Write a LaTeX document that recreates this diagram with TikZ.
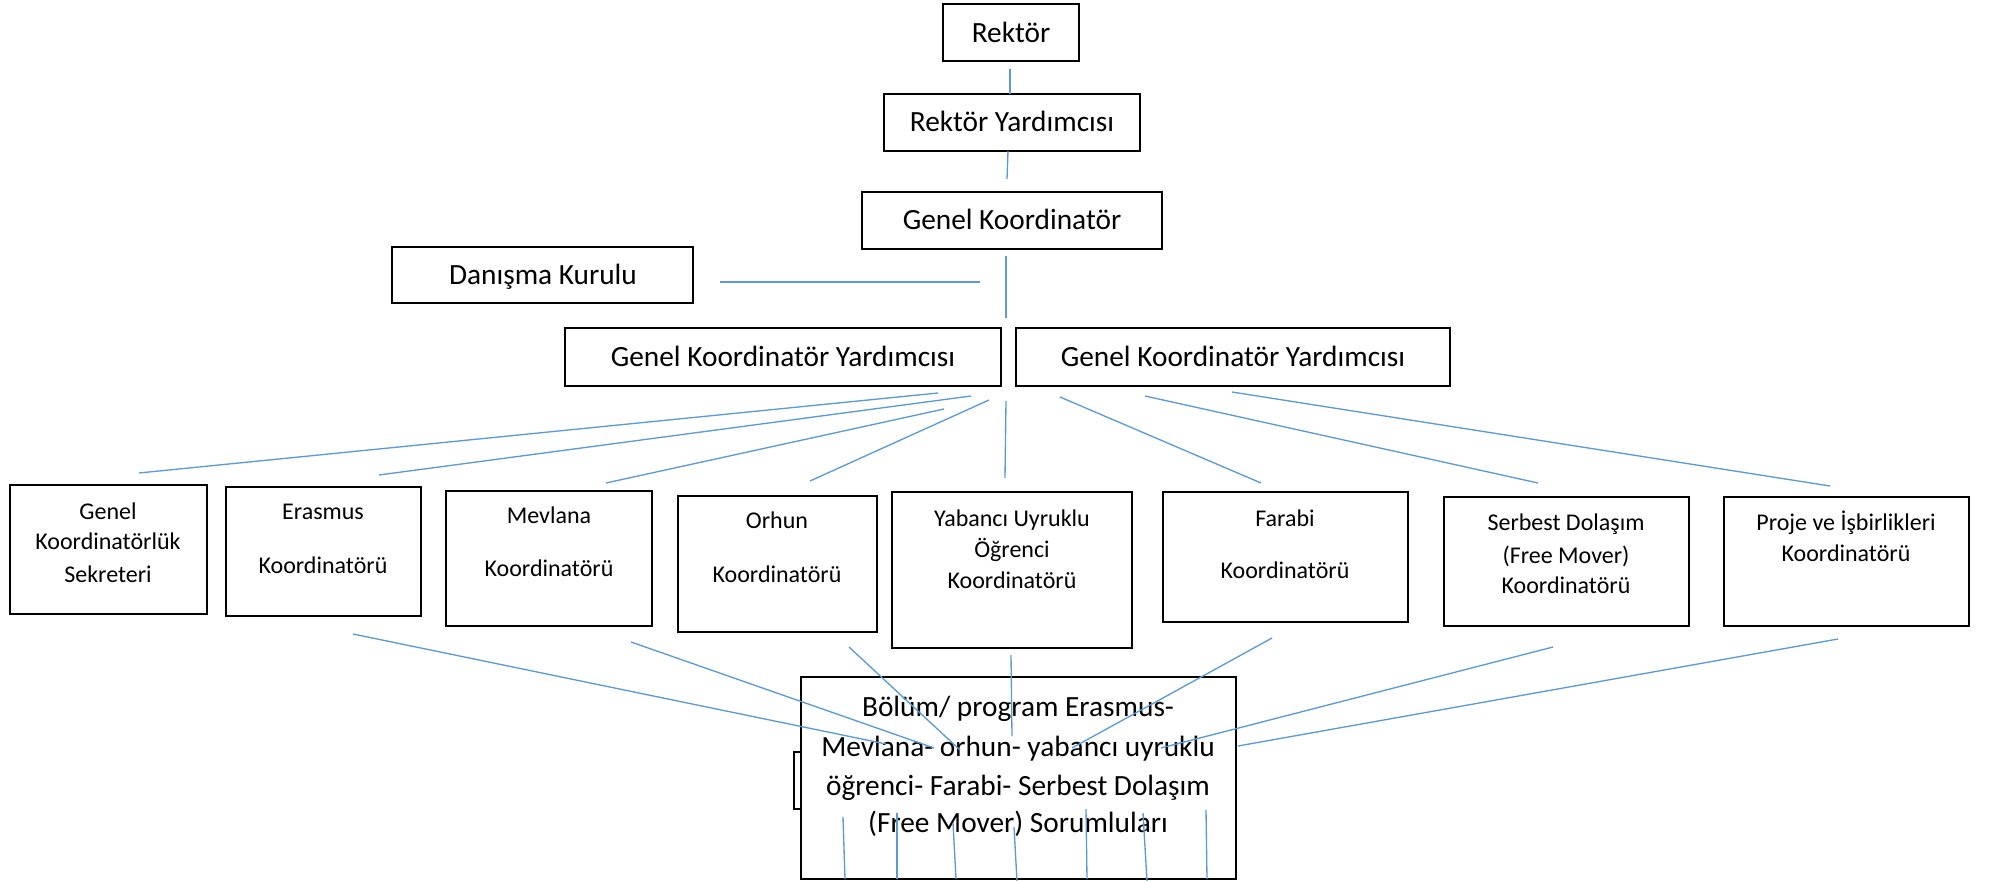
\documentclass[tikz,border=0pt]{standalone}
\usepackage{fontspec}
\setmainfont{Carlito}
\usetikzlibrary{fit}
\definecolor{linkblue}{HTML}{5B9BD5}
\tikzset{
  box/.style={draw=black, line width=1.6pt, inner sep=0pt, fill=white},
  bigtxt/.style={font=\fontsize{22}{26}\selectfont, inner sep=0pt, text height=0.64em, text depth=0pt, yshift=-4pt},
  smalltxt/.style={font=\fontsize{18}{22}\selectfont, inner sep=0pt, text height=0.64em, text depth=0pt, yshift=-2pt},
  link/.style={draw=linkblue, line width=1pt},
}
\begin{document}
\begin{tikzpicture}[x=0.75pt,y=-0.75pt]
\useasboundingbox (0,0) rectangle (1993,881);

% top chain boxes
\node[box, fit={(943,4) (1079,61)}] (rektor) {};
\node[box, fit={(884,94) (1140,151)}] (ry) {};
\node[box, fit={(862,192) (1162,249)}] (gk) {};
\node[box, fit={(392,247) (693,303)}] (dk) {};
\node[box, fit={(565,328) (1001,386)}] (gkyl) {};
\node[box, fit={(1016,328) (1450,386)}] (gkyr) {};

\node[bigtxt] (trektor) at (1011,33) {Rektör};
\node[bigtxt] (try) at (1012,122) {Rektör Yardımcısı};
\node[bigtxt] (tgk) at (1012,220) {Genel Koordinatör};
\node[bigtxt] (tdk) at (543,275) {Danışma Kurulu};
\node[bigtxt] (tgkyl) at (783,357) {Genel Koordinatör Yardımcısı};
\node[bigtxt] (tgkyr) at (1233,357) {Genel Koordinatör Yardımcısı};

% children boxes
\node[box, fit={(10,485) (207,614)}] (c1) {};
\node[box, fit={(226,487) (421,616)}] (c2) {};
\node[box, fit={(446,491) (652,626)}] (c3) {};
\node[box, fit={(678,496) (877,632)}] (c4) {};
\node[box, fit={(892,492) (1132,648)}] (c5) {};
\node[box, fit={(1163,492) (1408,622)}] (c6) {};
\node[box, fit={(1444,497) (1689,626)}] (c7) {};
\node[box, fit={(1724,497) (1969,626)}] (c8) {};

\node[smalltxt] (t1a) at (108,513) {Genel};
\node[smalltxt] (t1b) at (108,543) {Koordinatörlük};
\node[smalltxt] (t1c) at (108,576) {Sekreteri};
\node[smalltxt] (t2a) at (323,513) {Erasmus};
\node[smalltxt] (t2b) at (323,567) {Koordinatörü};
\node[smalltxt] (t3a) at (549,517) {Mevlana};
\node[smalltxt] (t3b) at (549,570) {Koordinatörü};
\node[smalltxt] (t4a) at (777,522) {Orhun};
\node[smalltxt] (t4b) at (777,576) {Koordinatörü};
\node[smalltxt] (t5a) at (1012,520) {Yabancı Uyruklu};
\node[smalltxt] (t5b) at (1012,551) {Öğrenci};
\node[smalltxt] (t5c) at (1012,582) {Koordinatörü};
\node[smalltxt] (t6a) at (1285,520) {Farabi};
\node[smalltxt] (t6b) at (1285,572) {Koordinatörü};
\node[smalltxt] (t7a) at (1566,524) {Serbest Dolaşım};
\node[smalltxt] (t7b) at (1566,557) {(Free Mover)};
\node[smalltxt] (t7c) at (1566,587) {Koordinatörü};
\node[smalltxt] (t8a) at (1846,524) {Proje ve İşbirlikleri};
\node[smalltxt] (t8b) at (1846,555) {Koordinatörü};

% bottom boxes
\node[box, fit={(794,752) (860,809)}] (hidden) {};
\node[box, fit={(801,677) (1236,879)}] (bolum) {};
\node[bigtxt] (tb1) at (1018,707) {Bölüm/ program Erasmus-};
\node[bigtxt] (tb2) at (1018,747) {Mevlana- orhun- yabancı uyruklu};
\node[bigtxt] (tb3) at (1018,786) {öğrenci- Farabi- Serbest Dolaşım};
\node[bigtxt] (tb4) at (1018,823) {(Free Mover) Sorumluları};

% connector end points
\coordinate (r1) at (1010,69);  \coordinate (r2) at (1010,94);
\coordinate (y1) at (1008,151); \coordinate (y2) at (1007,179);
\coordinate (g1) at (1006,256); \coordinate (g2) at (1006,318);
\coordinate (d1) at (720,282);  \coordinate (d2) at (980,282);

\coordinate (s1) at (938,393);  \coordinate (e1) at (139,473);
\coordinate (s2) at (971,396);  \coordinate (e2) at (379,475);
\coordinate (s3) at (944,409);  \coordinate (e3) at (606,483);
\coordinate (s4) at (989,400);  \coordinate (e4) at (810,481);
\coordinate (s5) at (1006,401); \coordinate (e5) at (1005,478);
\coordinate (s6) at (1060,397); \coordinate (e6) at (1261,483);
\coordinate (s7) at (1145,396); \coordinate (e7) at (1538,483);
\coordinate (s8) at (1232,392); \coordinate (e8) at (1830,486);

\coordinate (ua) at (353,634);  \coordinate (va) at (886,744);
\coordinate (ub) at (631,642);  \coordinate (vb) at (934,748);
\coordinate (uc) at (849,647);  \coordinate (vc) at (960,750);
\coordinate (ud) at (1011,655); \coordinate (vd) at (1012,736);
\coordinate (ue) at (1272,638); \coordinate (ve) at (1072,748);
\coordinate (uf) at (1553,647); \coordinate (vf) at (1161,748);
\coordinate (ug) at (1838,639); \coordinate (vg) at (1238,746);

\coordinate (p1) at (843,817);  \coordinate (q1) at (845,879);
\coordinate (p2) at (897,813);  \coordinate (q2) at (897,879);
\coordinate (p3) at (953,823);  \coordinate (q3) at (956,879);
\coordinate (p4) at (1014,827); \coordinate (q4) at (1017,881);
\coordinate (p5) at (1086,809); \coordinate (q5) at (1087,879);
\coordinate (p6) at (1143,813); \coordinate (q6) at (1147,881);
\coordinate (p7) at (1206,810); \coordinate (q7) at (1207,879);

% connectors
\draw[link] (r1) -- (r2);
\draw[link] (y1) -- (y2);
\draw[link] (g1) -- (g2);
\draw[link] (d1) -- (d2);
\foreach \i in {1,...,8} { \draw[link] (s\i) -- (e\i); }
\foreach \i in {a,b,c,d,e,f,g} { \draw[link] (u\i) -- (v\i); }
\foreach \i in {1,...,7} { \draw[link] (p\i) -- (q\i); }
\end{tikzpicture}
\end{document}
